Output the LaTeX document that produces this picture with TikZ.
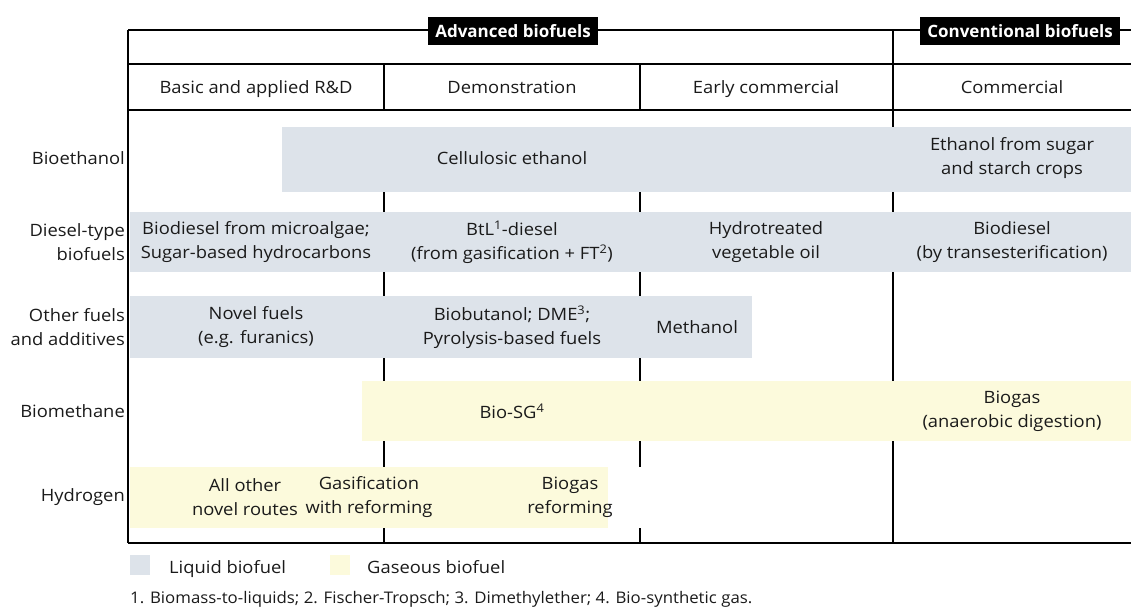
\documentclass[tikz,border=0pt]{standalone}
\usepackage{fontspec}
\setmainfont{Open Sans}
\newfontfamily\widefont[FakeStretch=1.08]{Open Sans}
\newfontfamily\notefont[FakeStretch=1.05]{Open Sans}
\definecolor{liquid}{HTML}{DDE3EA}
\definecolor{gas}{HTML}{FCFADC}
\definecolor{ink}{HTML}{1A1A1A}
\begin{document}
\begin{tikzpicture}[x=1pt,y=-1pt,
  txt/.style={font=\widefont\fontsize{17}{24}\selectfont, text=ink, align=center, inner sep=0pt},
  lbl/.style={font=\widefont\fontsize{17}{24}\selectfont, text=ink, align=right, inner sep=0pt, anchor=east},
  hdr/.style={font=\widefont\fontsize{17}{22}\selectfont, text=ink, inner sep=0pt, text height=12pt, text depth=0pt},
  note/.style={font=\notefont\fontsize{16}{20}\selectfont, text=ink, inner sep=0pt, anchor=base west},
  tag/.style={font=\bfseries\fontsize{17}{20}\selectfont, text=white, fill=black, inner xsep=7pt, minimum height=28pt},
  frame/.style={line width=1.6pt, black},
  tick/.style={line width=2.6pt, black},
  lband/.style={fill=liquid, draw=none},
  gband/.style={fill=gas, draw=none}]
\useasboundingbox (0,0) rectangle (1131,610);
% full-height lines
\draw[frame] (128,30) -- (128,543);
\draw[frame] (893,30) -- (893,543);
\draw[frame] (128,30) -- (1131,30);
\draw[frame] (128,64) -- (1131,64);
\draw[frame] (128,110) -- (1131,110);
\draw[frame] (128,543) -- (1131,543);
\draw[frame] (384,64) -- (384,110);
\draw[frame] (640,64) -- (640,110);
% ticks between rows
\foreach \a/\b in {192/212, 272/296, 358/381, 441/467, 528/543}{
  \draw[tick] (384,\a) -- (384,\b);
  \draw[tick] (640,\a) -- (640,\b);
}
% bands
\fill[lband] (282,127) rectangle (1131,192);
\fill[lband] (130,212) rectangle (1131,272);
\fill[lband] (130,296) rectangle (752,358);
\fill[gband] (362,381) rectangle (1131,441);
\fill[gband] (130,467) rectangle (608,528);
% tags
\node[tag] (adv) at (513,31) {Advanced biofuels};
\node[tag] (conv) at (1020,31) {Conventional biofuels};
% headers
\node[hdr] (h1) at (256,87) {Basic and applied R\&D};
\node[hdr] (h2) at (512,87) {Demonstration};
\node[hdr] (h3) at (766,87) {Early commercial};
\node[hdr] (h4) at (1012,87) {Commercial};
% row labels
\node[lbl] (r1) at (125,158) {Bioethanol};
\node[lbl] (r2) at (125,242) {Diesel-type\\biofuels};
\node[lbl] (r3) at (125,327) {Other fuels\\and additives};
\node[lbl] (r4) at (125,411) {Biomethane};
\node[lbl] (r5) at (125,497) {Hydrogen};
% band texts
\node[txt] (c1) at (512,158) {Cellulosic ethanol};
\node[txt] (c2) at (1012,158) {Ethanol from sugar\\and starch crops};
\node[txt] (d1) at (256,242) {Biodiesel from microalgae;\\Sugar-based hydrocarbons};
\node[txt] (d2) at (512,242) {BtL\textsuperscript{1}-diesel\\(from gasification + FT\textsuperscript{2})};
\node[txt] (d3) at (766,242) {Hydrotreated\\vegetable oil};
\node[txt] (d4) at (1012,242) {Biodiesel\\(by transesterification)};
\node[txt] (o1) at (256,327) {Novel fuels\\(e.g. furanics)};
\node[txt] (o2) at (512,327) {Biobutanol; DME\textsuperscript{3};\\Pyrolysis-based fuels};
\node[txt] (o3) at (697,327) {Methanol};
\node[txt] (m1) at (512,411) {Bio-SG\textsuperscript{4}};
\node[txt] (m2) at (1012,411) {Biogas\\(anaerobic digestion)};
\node[txt] (y1) at (245,497) {All other\\novel routes};
\node[txt] (y2) at (369,497) {Gasification\\with reforming};
\node[txt] (y3) at (570,497) {Biogas\\reforming};
% legend
\fill[liquid] (130,555) rectangle (150,575);
\node[note, font=\widefont\fontsize{17}{20}\selectfont] (lg1) at (169,573) {Liquid biofuel};
\fill[gas] (330,555) rectangle (350,575);
\node[note, font=\widefont\fontsize{17}{20}\selectfont] (lg2) at (367,573) {Gaseous biofuel};
\node[note] (fn) at (130,603) {1. Biomass-to-liquids; 2. Fischer-Tropsch; 3. Dimethylether; 4. Bio-synthetic gas.};
\end{tikzpicture}
\end{document}
